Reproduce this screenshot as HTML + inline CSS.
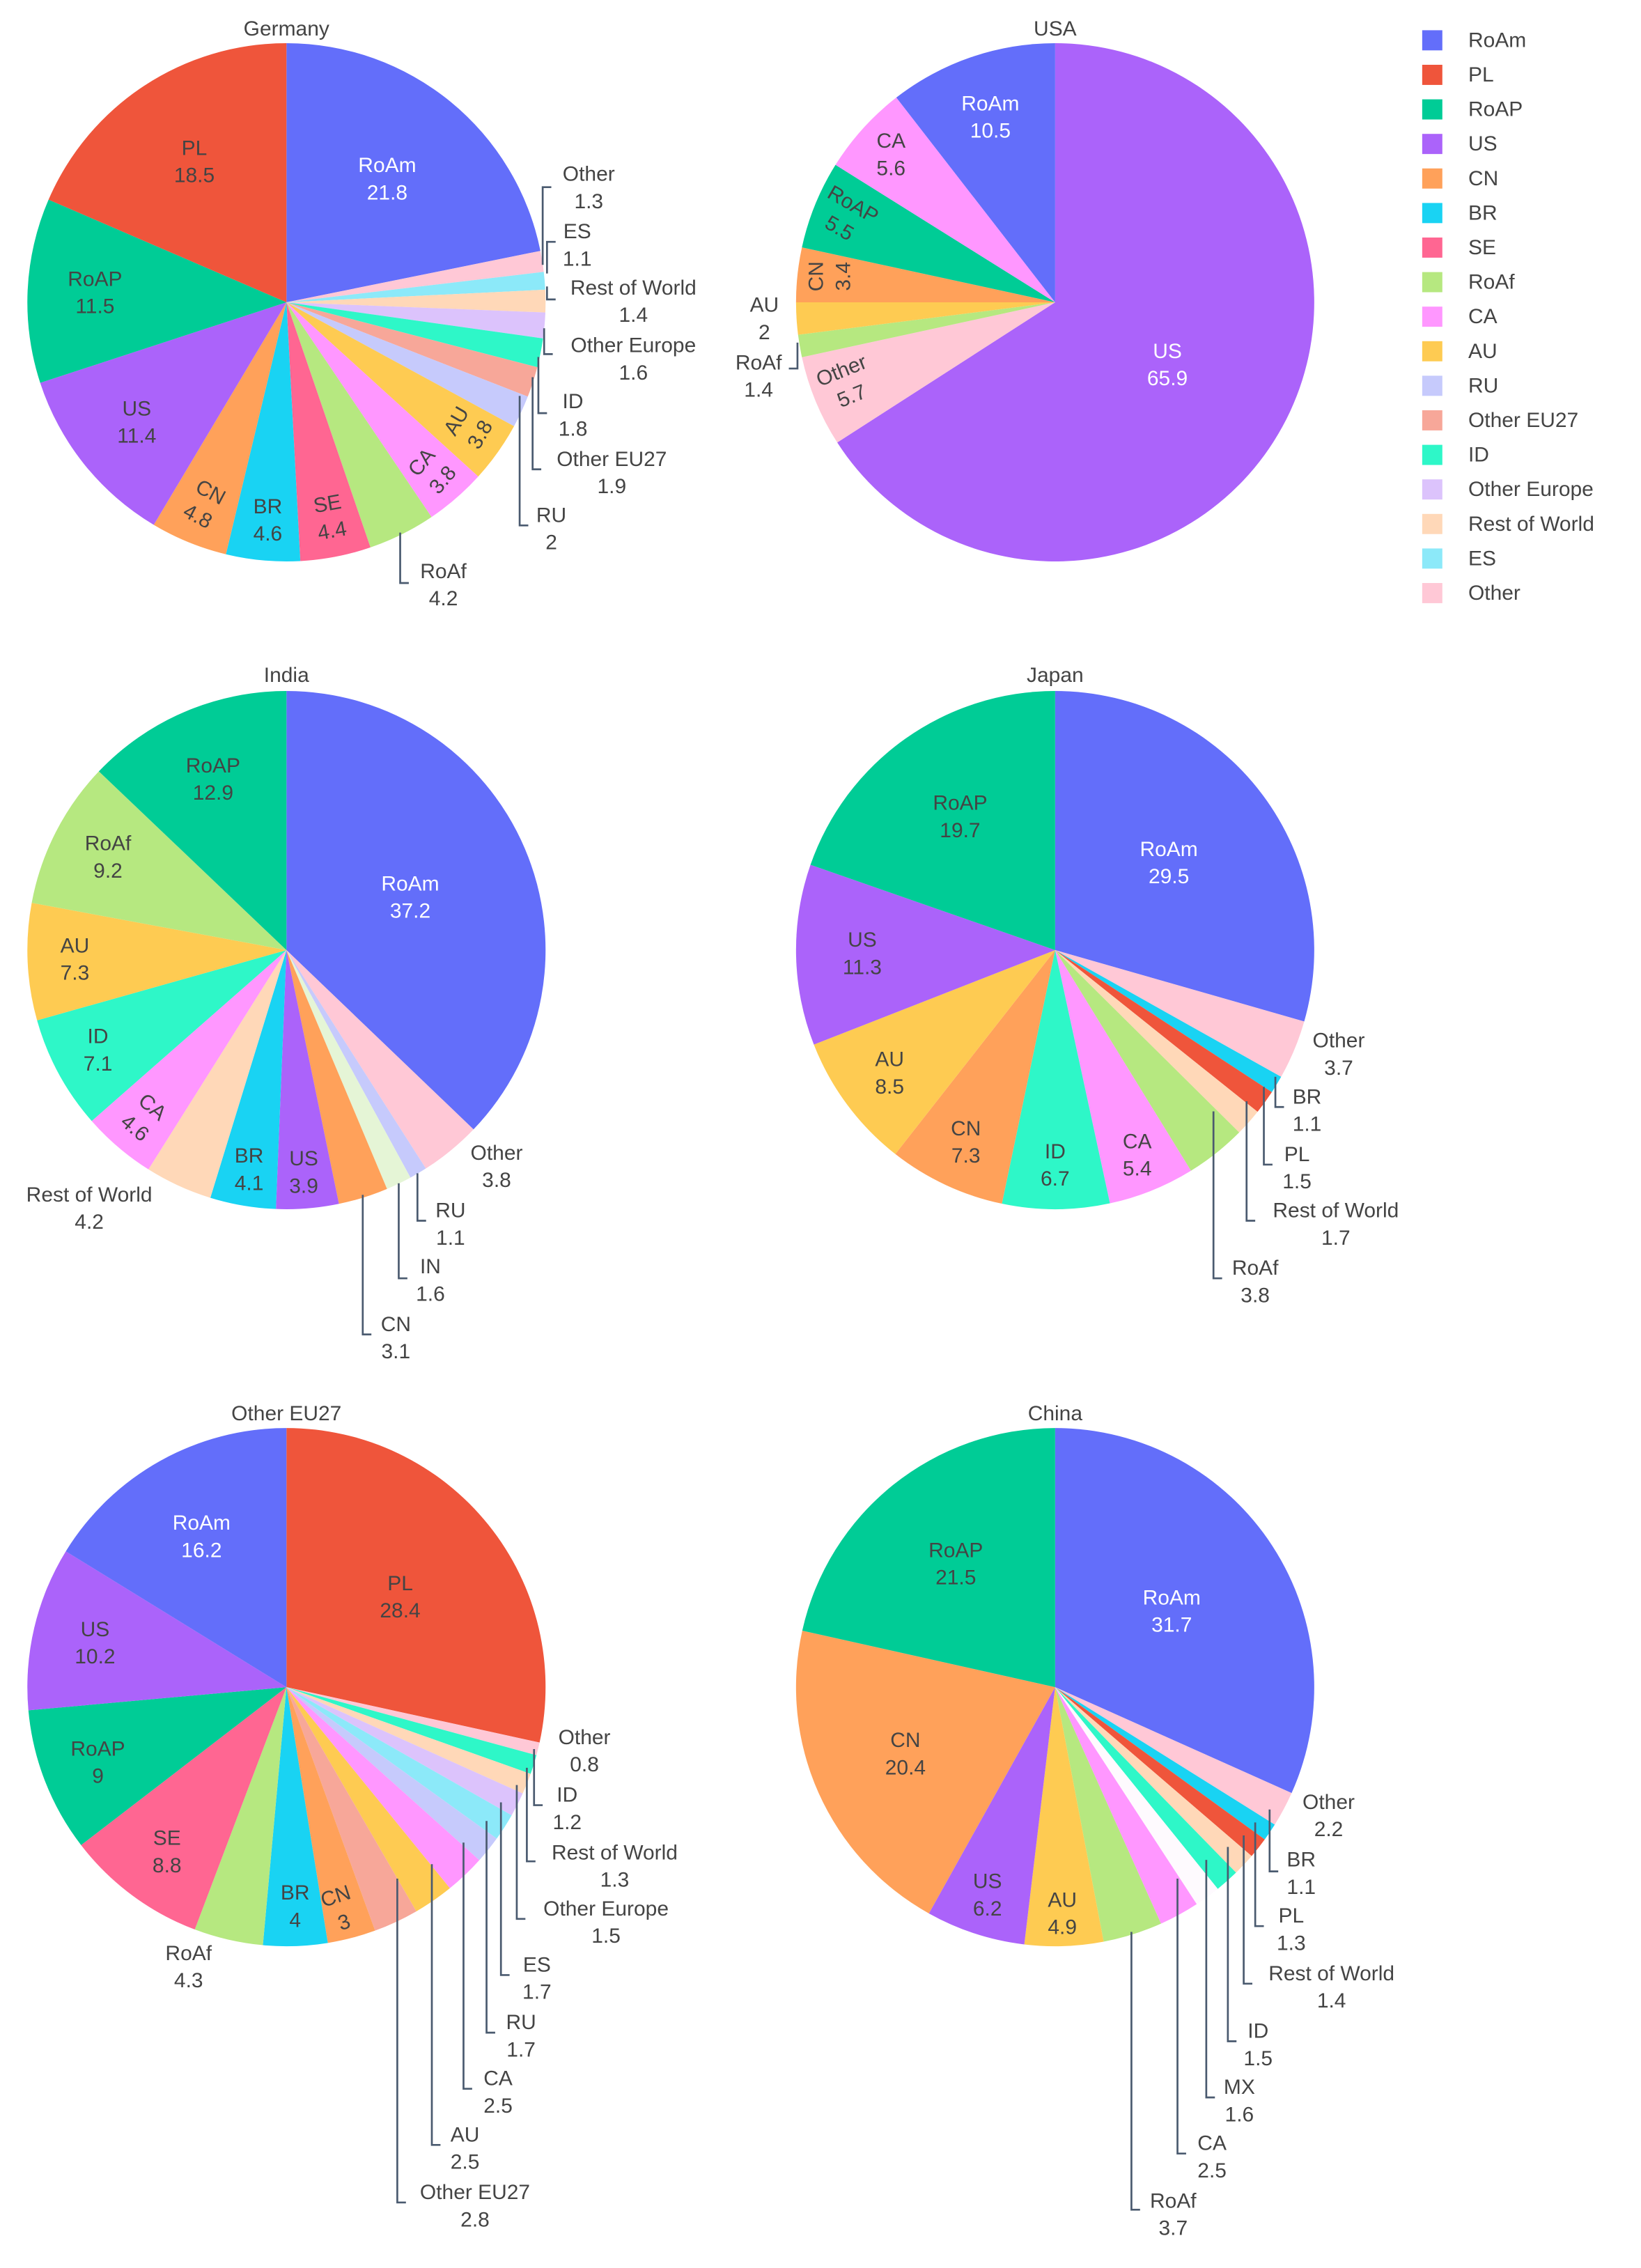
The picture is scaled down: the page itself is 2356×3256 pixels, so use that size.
<!DOCTYPE html>
<html><head><meta charset="utf-8"><style>html,body{margin:0;padding:0;background:#fff}svg{display:block}</style></head>
<body>
<svg id="s" xmlns="http://www.w3.org/2000/svg" width="2356" height="3256" viewBox="0 0 1140 1575.5" font-family="Liberation Sans, sans-serif" font-size="14.5" fill="#444"></svg>
<script>
const C={RoAm:'#636efa',PL:'#ef553b',RoAP:'#00cc96',US:'#ab63fa',CN:'#ffa15a',BR:'#19d3f3',SE:'#ff6692',RoAf:'#b6e880',CA:'#ff97ff',AU:'#fecb52',RU:'#c6cafc','Other EU27':'#f7a799',ID:'#2ef7c8','Other Europe':'#dcc3fc','Rest of World':'#ffd8b8',ES:'#8ce9f9',Other:'#ffc8d6',IN:'#e5f5d6',MX:'#fefafe'};
const s=document.getElementById('s');let h='';
function pie(cx,cy,r,sl){let tot=sl.reduce((a,b)=>a+b[1],0),a=0;
 for(const [k,v] of sl){const a0=a/tot*2*Math.PI;a+=v;const a1=a/tot*2*Math.PI;
  const x0=cx+r*Math.sin(a0),y0=cy-r*Math.cos(a0),x1=cx+r*Math.sin(a1),y1=cy-r*Math.cos(a1);
  h+=`<path d="M${cx},${cy}L${x0},${y0}A${r},${r} 0 ${a1-a0>Math.PI?1:0} 1 ${x1},${y1}Z" fill="${C[k]}"/>`;}}
function t(x,y,a,b,col,rot){const c=col||'#444';const tr=rot?` transform="rotate(${rot} ${x} ${(y)})"`:'';
 h+=`<g${tr}><text x="${x}" y="${y-9}" text-anchor="middle" dominant-baseline="central" fill="${c}">${a}</text><text x="${x}" y="${y+10}" text-anchor="middle" dominant-baseline="central" fill="${c}">${b}</text></g>`;}
function L(x,y0,y1){h+=`<polyline points="${x},${y0} ${x},${y1} ${x+6},${y1}" fill="none" stroke="#4a5a6f" stroke-width="1.3"/>`;}
function title(x,y,s){h+=`<text x="${x}" y="${y}" text-anchor="middle" dominant-baseline="central">${s}</text>`;}
// Germany
pie(199,210,180,[['RoAm',21.8],['Other',1.3],['ES',1.1],['Rest of World',1.4],['Other Europe',1.6],['ID',1.8],['Other EU27',1.9],['RU',2],['AU',3.8],['CA',3.8],['RoAf',4.2],['SE',4.4],['BR',4.6],['CN',4.8],['US',11.4],['RoAP',11.5],['PL',18.5]]);
t(269,124,'RoAm','21.8','#fff');t(135,112,'PL','18.5');t(66,203,'RoAP','11.5');t(95,293,'US','11.4');t(142,350,'CN','4.8',0,28);t(186,361,'BR','4.6');t(229,359,'SE','4.4',0,-10);t(325,297,'AU','3.8',0,-60);t(300,327,'CA','3.8',0,-50);
t(409,130,'Other','1.3');t(401,170,'ES','1.1');t(440,209,'Rest of World','1.4');t(440,249,'Other Europe','1.6');t(398,288,'ID','1.8');t(425,328,'Other EU27','1.9');t(383,367,'RU','2');t(308,406,'RoAf','4.2');
L(377,184,130);L(380,190,168);L(380,199,208);L(378,228,246);L(374,248,287);L(370,262,326);L(361,275,365);L(278,370,405);
title(199,20,'Germany');
// USA
pie(733,210,180,[['US',65.9],['Other',5.7],['RoAf',1.4],['AU',2],['CN',3.4],['RoAP',5.5],['CA',5.6],['RoAm',10.5]]);
t(688,81,'RoAm','10.5','#fff');t(619,107,'CA','5.6');t(588,150,'RoAP','5.5',0,30);t(576,192,'CN','3.4',0,-90);t(588,266,'Other','5.7',0,-22);t(811,253,'US','65.9','#fff');
t(531,221,'AU','2');t(527,261,'RoAf','1.4');h+=`<polyline points="554,238 554,256 548,256" fill="none" stroke="#4a5a6f" stroke-width="1.3"/>`;
title(733,20,'USA');
// India
pie(199,660,180,[['RoAm',37.2],['Other',3.8],['RU',1.1],['IN',1.6],['CN',3.1],['US',3.9],['BR',4.1],['Rest of World',4.2],['CA',4.6],['ID',7.1],['AU',7.3],['RoAf',9.2],['RoAP',12.9]]);
t(285,623,'RoAm','37.2','#fff');t(148,541,'RoAP','12.9');t(75,595,'RoAf','9.2');t(52,666,'AU','7.3');t(68,729,'ID','7.1');t(100,776,'CA','4.6',0,40);t(173,812,'BR','4.1');t(211,814,'US','3.9');
t(345,810,'Other','3.8');t(313,850,'RU','1.1');t(299,889,'IN','1.6');t(275,929,'CN','3.1');t(62,839,'Rest of World','4.2');
L(290,815,848);L(277,822,888);L(252,830,927);
title(199,469,'India');
// Japan
pie(733,660,180,[['RoAm',29.5],['Other',3.7],['BR',1.1],['PL',1.5],['Rest of World',1.7],['RoAf',3.8],['CA',5.4],['ID',6.7],['CN',7.3],['AU',8.5],['US',11.3],['RoAP',19.7]]);
t(812,599,'RoAm','29.5','#fff');t(667,567,'RoAP','19.7');t(599,662,'US','11.3');t(618,745,'AU','8.5');t(671,793,'CN','7.3');t(733,809,'ID','6.7');t(790,802,'CA','5.4');
t(930,732,'Other','3.7');t(908,771,'BR','1.1');t(901,811,'PL','1.5');t(928,850,'Rest of World','1.7');t(872,890,'RoAf','3.8');
L(886,748,769);L(878,755,809);L(866,765,848);L(843,772,888);
title(733,469,'Japan');
// Other EU27
pie(199,1172,180,[['PL',28.4],['Other',0.8],['ID',1.2],['Rest of World',1.3],['Other Europe',1.5],['ES',1.7],['RU',1.7],['CA',2.5],['AU',2.5],['Other EU27',2.8],['CN',3],['BR',4],['RoAf',4.3],['SE',8.8],['RoAP',9],['US',10.2],['RoAm',16.2]]);
t(278,1109,'PL','28.4');t(140,1067,'RoAm','16.2','#fff');t(66,1141,'US','10.2');t(68,1224,'RoAP','9');t(116,1286,'SE','8.8');t(205,1324,'BR','4');t(236,1326,'CN','3',0,-18);
t(406,1216,'Other','0.8');t(394,1256,'ID','1.2');t(427,1296,'Rest of World','1.3');t(421,1335,'Other Europe','1.5');t(373,1374,'ES','1.7');t(362,1414,'RU','1.7');t(346,1453,'CA','2.5');t(323,1492,'AU','2.5');t(330,1532,'Other EU27','2.8');t(131,1366,'RoAf','4.3');
L(371,1215,1254);L(366,1228,1293);L(359,1240,1333);L(348,1252,1372);L(338,1265,1412);L(322,1280,1451);L(300,1295,1490);L(276,1305,1530);
title(199,982,'Other EU27');
// China
pie(733,1172,180,[['RoAm',31.7],['Other',2.2],['BR',1.1],['PL',1.3],['Rest of World',1.4],['ID',1.5],['MX',1.6],['CA',2.5],['RoAf',3.7],['AU',4.9],['US',6.2],['CN',20.4],['RoAP',21.5]]);
t(814,1119,'RoAm','31.7','#fff');t(664,1086,'RoAP','21.5');t(629,1218,'CN','20.4');t(686,1316,'US','6.2');t(738,1329,'AU','4.9');
t(923,1261,'Other','2.2');t(904,1301,'BR','1.1');t(897,1340,'PL','1.3');t(925,1380,'Rest of World','1.4');t(874,1420,'ID','1.5');t(861,1459,'MX','1.6');t(842,1498,'CA','2.5');t(815,1538,'RoAf','3.7');
L(882,1257,1300);L(872,1266,1338);L(864,1275,1378);L(853,1283,1418);L(838,1292,1457);L(818,1305,1496);L(786,1342,1535);
title(733,982,'China');
// Legend
const lg=['RoAm','PL','RoAP','US','CN','BR','SE','RoAf','CA','AU','RU','Other EU27','ID','Other Europe','Rest of World','ES','Other'];
lg.forEach((k,i)=>{const y=28+24*i;h+=`<rect x="988" y="${y-7}" width="14" height="14" fill="${C[k]}"/><text x="1020" y="${y}" dominant-baseline="central">${k}</text>`;});
s.innerHTML=h;
</script>
</body></html>
